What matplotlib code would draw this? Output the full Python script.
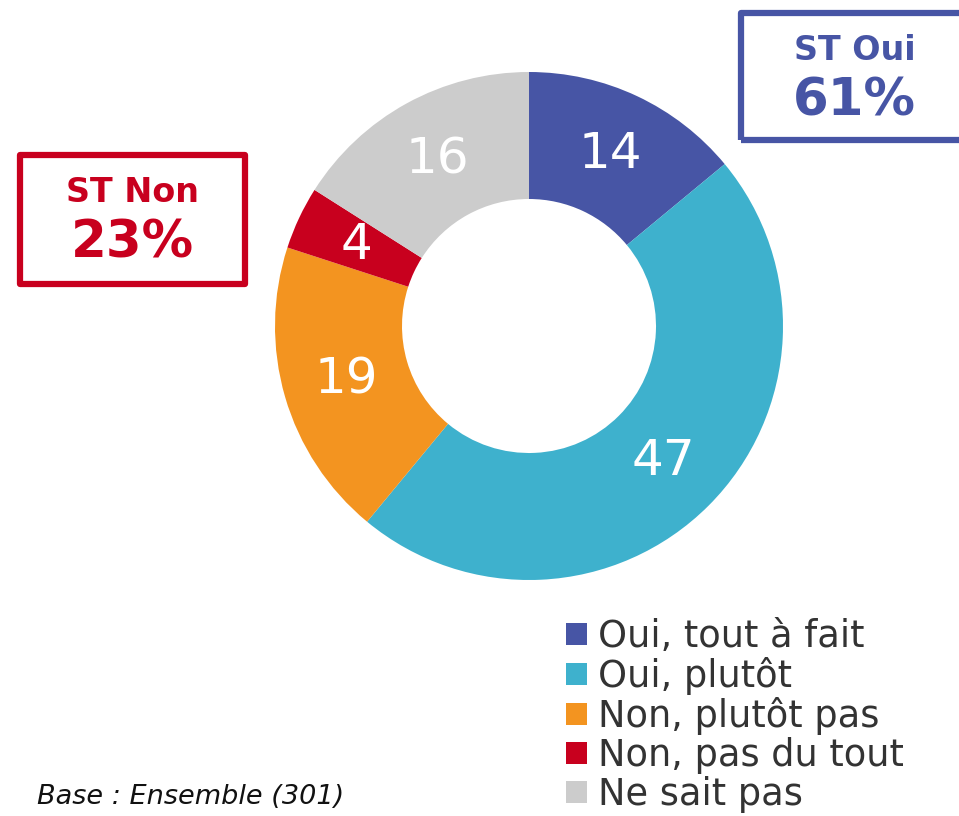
import matplotlib.pyplot as plt
from matplotlib.patches import Patch, Rectangle

# Réponses (en %)
labels = ["Oui, tout à fait", "Oui, plutôt", "Non, plutôt pas", "Non, pas du tout", "Ne sait pas"]
values = [14, 47, 19, 4, 16]
colors = ["#4755A5", "#3EB1CD", "#F39420", "#C8001E", "#CCCCCC"]

st_oui = 61
st_non = 23

W, H = 959, 816
fig = plt.figure(figsize=(W/100, H/100), dpi=100)

# donut: centre (529, 326) px, rayon 254 px
cx, cy, r = 529, 326, 254
ax = fig.add_axes([(cx-r)/W, (H-cy-r)/H, 2*r/W, 2*r/H])
wedges, texts, autotexts = ax.pie(
    values, colors=colors, startangle=90, counterclock=False,
    radius=1, wedgeprops=dict(width=0.5, linewidth=0),
    autopct=lambda p: "%d" % round(p), pctdistance=0.75,
    textprops=dict(color="white", fontsize=36))
ax.set_xlim(-1, 1)
ax.set_ylim(-1, 1)
ax.set_aspect("equal")
ax.axis("off")

# encadrés des sous-totaux
def st_box(x0, y0, x1, y1, color, title, pct):
    fig.add_artist(Rectangle((x0/W, 1-y1/H), (x1-x0)/W, (y1-y0)/H,
                             transform=fig.transFigure, fill=False,
                             edgecolor=color, linewidth=4.5,
                             joinstyle="round"))
    xm = (x0 + x1) / 2
    fig.text(xm/W, 1-(y0+38)/H, title, color=color, fontsize=24,
             fontweight="bold", ha="center", va="center")
    fig.text(xm/W, 1-(y0+89)/H, "%d%%" % pct, color=color, fontsize=37,
             fontweight="bold", ha="center", va="center")

st_box(741, 13, 968, 140, "#4755A5", "ST Oui", st_oui)
st_box(20, 155, 245, 284, "#C8001E", "ST Non", st_non)

# légende
handles = [Patch(facecolor=c, edgecolor="none") for c in colors]
fig.legend(handles, labels, loc="upper left", bbox_to_anchor=(566/W, 1-618/H),
           frameon=False, fontsize=26.5, labelcolor="#333333",
           handlelength=0.57, handleheight=0.57, handletextpad=0.3,
           labelspacing=0.055, borderaxespad=0, borderpad=0)

fig.text(37/W, 1-797/H, "Base : Ensemble (301)", fontsize=19.5, style="italic",
         color="#111111", va="center", ha="left")

# "En %" coupé en haut
fig.text(22/W, 1+16/H, "En %", fontsize=24, color="#333333", va="center", ha="left")

fig.savefig("out.png", dpi=100)
